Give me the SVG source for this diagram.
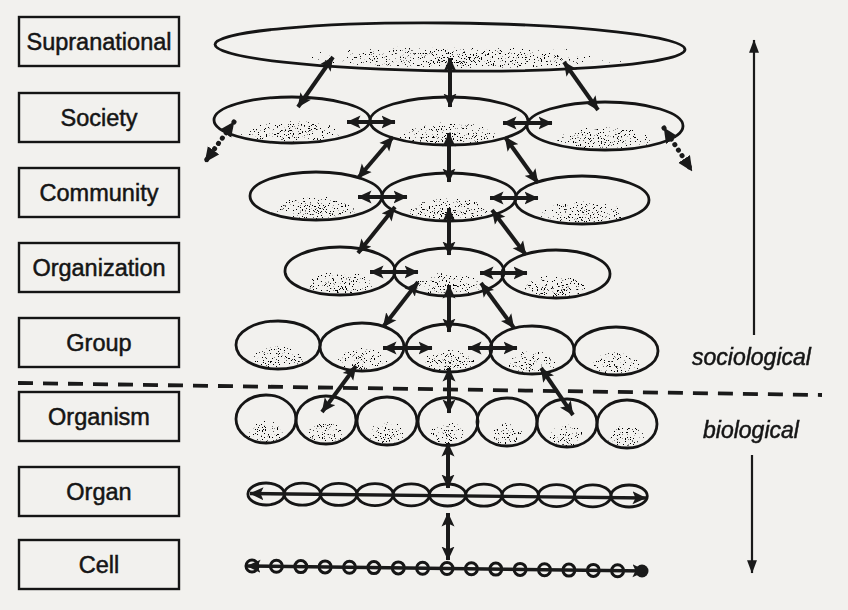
<svg xmlns="http://www.w3.org/2000/svg" width="848" height="610" viewBox="0 0 848 610">
  <style>
    .box { fill: none; stroke: #151515; stroke-width: 2.4; }
    .lbl { font-family: "Liberation Sans", Arial, sans-serif; font-size: 23.5px; fill: #151515; stroke: #151515; stroke-width: 0.5; text-anchor: middle; }
    .side { font-family: "Liberation Sans", Arial, sans-serif; font-size: 23px; font-style: italic; fill: #151515; stroke: #151515; stroke-width: 0.5; }
    .ring { fill: none; stroke: #151515; stroke-width: 2.8; }
    .bead { fill: none; stroke: #151515; stroke-width: 3; }
    .spk { fill: url(#spkGrad); }
    .link { stroke: #1a1a1a; stroke-width: 4; fill: none; marker-start: url(#ah); marker-end: url(#ah); }
    .dots { stroke: #1a1a1a; stroke-width: 5; stroke-linecap: round; stroke-dasharray: 0.1 6.5; fill: none; }
    .chain { stroke: #1a1a1a; stroke-width: 3.4; fill: none; marker-start: url(#ah); marker-end: url(#ah); }
    .axis { stroke: #1a1a1a; stroke-width: 2.2; fill: none; marker-end: url(#ahThin); }
  </style>
  <defs>
    <marker id="ah" viewBox="0 0 14 14" refX="13.5" refY="7" markerWidth="14" markerHeight="14" markerUnits="userSpaceOnUse" orient="auto-start-reverse">
      <path d="M0,0.5 L14,7 L0,13.5 L3,7 z" fill="#1a1a1a"/>
    </marker>
    <marker id="ahDot" viewBox="0 0 14 14" refX="13.5" refY="7" markerWidth="15" markerHeight="15" markerUnits="userSpaceOnUse" orient="auto-start-reverse">
      <path d="M0,0.5 L14,7 L0,13.5 z" fill="#1a1a1a"/>
    </marker>
    <marker id="ahThin" viewBox="0 0 12 10" refX="11.5" refY="5" markerWidth="14" markerHeight="11" markerUnits="userSpaceOnUse" orient="auto">
      <path d="M0,0.5 L12,5 L0,9.5 z" fill="#1a1a1a"/>
    </marker>
    <!-- stipple concentrated in the lower part of each cell/unit -->
    <radialGradient id="spkGrad" cx="0.5" cy="0.84" r="0.5">
      <stop offset="0" stop-color="#000" stop-opacity="1"/>
      <stop offset="0.6" stop-color="#000" stop-opacity="0.92"/>
      <stop offset="1" stop-color="#000" stop-opacity="0"/>
    </radialGradient>
    <radialGradient id="spkBand" cx="0.52" cy="0.8" r="0.5">
      <stop offset="0" stop-color="#000" stop-opacity="1"/>
      <stop offset="0.55" stop-color="#000" stop-opacity="0.93"/>
      <stop offset="1" stop-color="#000" stop-opacity="0.6"/>
    </radialGradient>
    <filter id="speck" x="0" y="0" width="1" height="1" color-interpolation-filters="sRGB">
      <feTurbulence type="fractalNoise" baseFrequency="0.75" numOctaves="2" seed="7" result="n"/>
      <feColorMatrix in="n" type="matrix" values="0 0 0 0 0  0 0 0 0 0  0 0 0 0 0  1 0 0 0 0" result="na"/>
      <feComposite in="na" in2="SourceGraphic" operator="arithmetic" k1="1" k2="0" k3="0" k4="0" result="m"/>
      <feComponentTransfer in="m">
        <feFuncR type="linear" slope="0" intercept="0"/>
        <feFuncG type="linear" slope="0" intercept="0"/>
        <feFuncB type="linear" slope="0" intercept="0"/>
        <feFuncA type="linear" slope="22" intercept="-13.4"/>
      </feComponentTransfer>
    </filter>
  </defs>

  <rect width="848" height="610" fill="#f2f1ee"/>

  <!-- level labels -->
  <g id="label-supranational"><rect class="box" x="19" y="17" width="160" height="49"/><text class="lbl" x="99" y="50">Supranational</text></g>
  <g id="label-society"><rect class="box" x="19" y="93" width="160" height="49"/><text class="lbl" x="99" y="126">Society</text></g>
  <g id="label-community"><rect class="box" x="19" y="168" width="160" height="49"/><text class="lbl" x="99" y="201">Community</text></g>
  <g id="label-organization"><rect class="box" x="19" y="243" width="160" height="49"/><text class="lbl" x="99" y="276">Organization</text></g>
  <g id="label-group"><rect class="box" x="19" y="318" width="160" height="49"/><text class="lbl" x="99" y="351">Group</text></g>
  <g id="label-organism"><rect class="box" x="19" y="392" width="160" height="49"/><text class="lbl" x="99" y="425">Organism</text></g>
  <g id="label-organ"><rect class="box" x="19" y="467" width="160" height="49"/><text class="lbl" x="99" y="500">Organ</text></g>
  <g id="label-cell"><rect class="box" x="19" y="540" width="160" height="49"/><text class="lbl" x="99" y="573">Cell</text></g>

  <!-- stipple layer -->
  <g id="stipple" filter="url(#speck)">
    <ellipse cx="450" cy="49" rx="215" ry="19" fill="url(#spkBand)" transform="rotate(0.6 450 47)"/>
    <ellipse class="spk" cx="292" cy="120" rx="76" ry="22"/>
    <ellipse class="spk" cx="449" cy="121" rx="77" ry="23"/>
    <ellipse class="spk" cx="605" cy="126" rx="76" ry="23"/>
    <ellipse class="spk" cx="316" cy="196" rx="64" ry="23"/>
    <ellipse class="spk" cx="449" cy="197" rx="65" ry="23"/>
    <ellipse class="spk" cx="582" cy="200" rx="65" ry="23"/>
    <ellipse class="spk" cx="340" cy="271" rx="53" ry="23"/>
    <ellipse class="spk" cx="449" cy="272" rx="53" ry="23"/>
    <ellipse class="spk" cx="556" cy="274" rx="52" ry="23"/>
    <ellipse class="spk" cx="278" cy="345" rx="40" ry="23"/>
    <ellipse class="spk" cx="362" cy="347" rx="40" ry="23"/>
    <ellipse class="spk" cx="449" cy="348" rx="41" ry="23"/>
    <ellipse class="spk" cx="532" cy="350" rx="40" ry="23"/>
    <ellipse class="spk" cx="616" cy="351" rx="40" ry="23"/>
    <ellipse class="spk" cx="266" cy="419" rx="28" ry="23"/>
    <ellipse class="spk" cx="326" cy="420" rx="28" ry="23"/>
    <ellipse class="spk" cx="387" cy="421" rx="28" ry="23"/>
    <ellipse class="spk" cx="448" cy="421.5" rx="28" ry="23"/>
    <ellipse class="spk" cx="507" cy="422" rx="28" ry="23"/>
    <ellipse class="spk" cx="567" cy="423" rx="28" ry="23"/>
    <ellipse class="spk" cx="627" cy="424" rx="28" ry="23"/>
  </g>

  <!-- supranational -->
  <g id="supranational">
    <ellipse class="ring" cx="450" cy="47" rx="235" ry="24" transform="rotate(0.6 450 47)"/>
  </g>
  <!-- society -->
  <g id="society">
    <ellipse class="ring" cx="292" cy="120" rx="78" ry="23"/>
    <ellipse class="ring" cx="449" cy="121" rx="79" ry="24"/>
    <ellipse class="ring" cx="605" cy="126" rx="78" ry="24"/>
  </g>
  <!-- community -->
  <g id="community">
    <ellipse class="ring" cx="316" cy="196" rx="66" ry="24"/>
    <ellipse class="ring" cx="449" cy="197" rx="67" ry="24"/>
    <ellipse class="ring" cx="582" cy="200" rx="67" ry="24"/>
  </g>
  <!-- organization -->
  <g id="organization">
    <ellipse class="ring" cx="340" cy="271" rx="55" ry="24"/>
    <ellipse class="ring" cx="449" cy="272" rx="55" ry="24"/>
    <ellipse class="ring" cx="556" cy="274" rx="54" ry="24"/>
  </g>
  <!-- group -->
  <g id="group">
    <ellipse class="ring" cx="278" cy="345" rx="42" ry="24"/>
    <ellipse class="ring" cx="362" cy="347" rx="42" ry="24"/>
    <ellipse class="ring" cx="449" cy="348" rx="43" ry="24"/>
    <ellipse class="ring" cx="532" cy="350" rx="42" ry="24"/>
    <ellipse class="ring" cx="616" cy="351" rx="42" ry="24"/>
  </g>
  <!-- organism -->
  <g id="organism">
    <ellipse class="ring" cx="266" cy="419" rx="30" ry="24"/>
    <ellipse class="ring" cx="326" cy="420" rx="30" ry="24"/>
    <ellipse class="ring" cx="387" cy="421" rx="30" ry="24"/>
    <ellipse class="ring" cx="448" cy="421.5" rx="30" ry="24"/>
    <ellipse class="ring" cx="507" cy="422" rx="30" ry="24"/>
    <ellipse class="ring" cx="567" cy="423" rx="30" ry="24"/>
    <ellipse class="ring" cx="627" cy="424" rx="30" ry="24"/>
  </g>
  <!-- organ -->
  <g id="organ">
    <ellipse class="ring" cx="266.1" cy="494" rx="18.2" ry="11"/>
    <ellipse class="ring" cx="302.4" cy="494.2" rx="18.2" ry="11"/>
    <ellipse class="ring" cx="338.7" cy="494.4" rx="18.2" ry="11"/>
    <ellipse class="ring" cx="375" cy="494.6" rx="18.2" ry="11"/>
    <ellipse class="ring" cx="411.3" cy="494.8" rx="18.2" ry="11"/>
    <ellipse class="ring" cx="447.6" cy="495" rx="18.2" ry="11"/>
    <ellipse class="ring" cx="483.9" cy="495.2" rx="18.2" ry="11"/>
    <ellipse class="ring" cx="520.2" cy="495.4" rx="18.2" ry="11"/>
    <ellipse class="ring" cx="556.5" cy="495.6" rx="18.2" ry="11"/>
    <ellipse class="ring" cx="592.8" cy="495.8" rx="18.2" ry="11"/>
    <ellipse class="ring" cx="629.1" cy="496" rx="18.2" ry="11"/>
  </g>
  <!-- cell -->
  <g id="cell">
    <circle class="bead" cx="252" cy="566" r="6"/>
    <circle class="bead" cx="276.4" cy="566.3" r="6"/>
    <circle class="bead" cx="300.8" cy="566.6" r="6"/>
    <circle class="bead" cx="325.1" cy="566.9" r="6"/>
    <circle class="bead" cx="349.5" cy="567.3" r="6"/>
    <circle class="bead" cx="373.9" cy="567.6" r="6"/>
    <circle class="bead" cx="398.3" cy="567.9" r="6"/>
    <circle class="bead" cx="422.6" cy="568.2" r="6"/>
    <circle class="bead" cx="447" cy="568.5" r="6"/>
    <circle class="bead" cx="471.4" cy="568.8" r="6"/>
    <circle class="bead" cx="495.8" cy="569.1" r="6"/>
    <circle class="bead" cx="520.1" cy="569.4" r="6"/>
    <circle class="bead" cx="544.5" cy="569.8" r="6"/>
    <circle class="bead" cx="568.9" cy="570.1" r="6"/>
    <circle class="bead" cx="593.3" cy="570.4" r="6"/>
    <circle class="bead" cx="617.6" cy="570.7" r="6"/>
    <circle cx="642" cy="571" r="6.5" fill="#1a1a1a"/>
  </g>

  <!-- divider between sociological and biological levels -->
  <line x1="18" y1="383" x2="822" y2="395" stroke="#1a1a1a" stroke-width="3.8" stroke-dasharray="15 10"/>

  <!-- interaction arrows -->
  <g id="connectors">
    <line class="link" x1="450" y1="58" x2="450" y2="107"/>
    <line class="link" x1="449" y1="133" x2="449" y2="182"/>
    <line class="link" x1="449" y1="208" x2="449" y2="255"/>
    <line class="link" x1="449" y1="285" x2="449" y2="332"/>
    <line class="link" x1="449" y1="368" x2="449" y2="413"/>
    <line class="link" x1="448" y1="443" x2="448" y2="488"/>
    <line class="link" x1="448" y1="513" x2="448" y2="560"/>

    <line class="link" x1="333" y1="57" x2="298" y2="107"/>
    <line class="link" x1="564" y1="62" x2="598" y2="110"/>
    <line class="link" x1="393" y1="137" x2="358" y2="178"/>
    <line class="link" x1="505" y1="137" x2="538" y2="183"/>
    <line class="link" x1="395" y1="207" x2="358" y2="253"/>
    <line class="link" x1="492" y1="210" x2="526" y2="255"/>
    <line class="link" x1="418" y1="282" x2="383" y2="327"/>
    <line class="link" x1="481" y1="283" x2="514" y2="328"/>
    <line class="link" x1="356" y1="366" x2="322" y2="412"/>
    <line class="link" x1="541" y1="368" x2="573" y2="415"/>

    <line class="link" x1="347" y1="122" x2="395" y2="122"/>
    <line class="link" x1="503" y1="123" x2="552" y2="123"/>
    <line class="link" x1="358" y1="197" x2="407" y2="197"/>
    <line class="link" x1="490" y1="198" x2="538" y2="198"/>
    <line class="link" x1="370" y1="272" x2="418" y2="272"/>
    <line class="link" x1="480" y1="273" x2="527" y2="273"/>
    <line class="link" x1="383" y1="348" x2="432" y2="348"/>
    <line class="link" x1="468" y1="348" x2="517" y2="348"/>

    <line class="dots" x1="234" y1="122" x2="205" y2="162" marker-start="url(#ahDot)" marker-end="url(#ahDot)"/>
    <line class="dots" x1="664" y1="128" x2="692" y2="171" marker-start="url(#ahDot)" marker-end="url(#ahDot)"/>

    <line class="chain" x1="250" y1="493.5" x2="646" y2="498"/>
    <line class="chain" x1="247" y1="566" x2="646" y2="571"/>

    <line class="axis" x1="754" y1="335" x2="754" y2="40"/>
    <line class="axis" x1="752" y1="455" x2="752" y2="573"/>
  </g>

  <text class="side" x="692" y="365">sociological</text>
  <text class="side" x="703" y="438">biological</text>
</svg>
